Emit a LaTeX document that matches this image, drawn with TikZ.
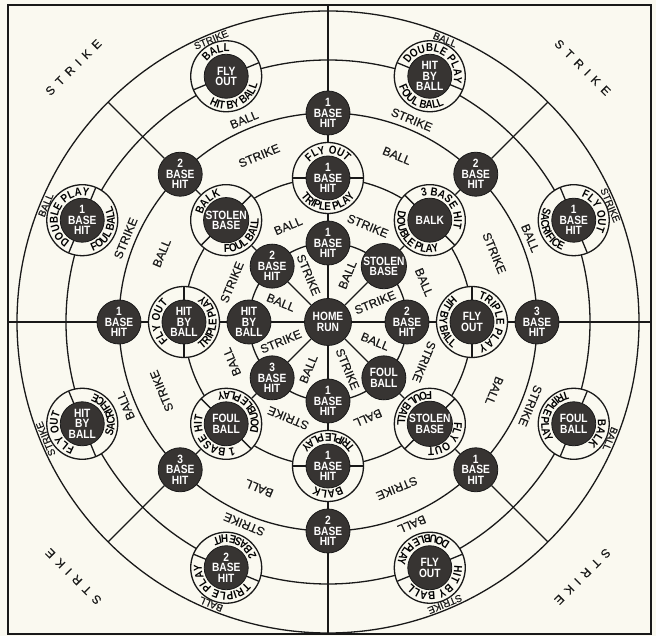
\documentclass[tikz,border=0pt]{standalone}
\usepackage{fontspec}
\setmainfont{Liberation Sans}[FakeBold=0.35]
\newfontfamily\narrowfam[FakeStretch=0.85]{Liberation Sans}
\usepackage{tikz}
\usetikzlibrary{decorations.text}

\definecolor{paper}{RGB}{250,249,240}
\definecolor{ink}{RGB}{25,25,25}
\definecolor{disc}{RGB}{55,52,50}

\newcommand{\discfont}{\narrowfam\bfseries\fontsize{12}{10.5}\selectfont}
\newcommand{\ringfont}{\narrowfam\bfseries\fontsize{11.5}{11.5}\selectfont}
\newcommand{\lblfont}{\fontsize{12}{12}\selectfont}

% ring node: name, angle, radius, core text, outer text, inner text
\newcommand{\ringnode}[6]{%
  \node[ringdisc] (#1) at (#2:#3) {};
  \draw[track] (#1.center) ++(#2+90:21.5) -- ++(#2+90:13.5);
  \draw[track] (#1.center) ++(#2-90:21.5) -- ++(#2-90:13.5);
  \node[darkdisc] at (#1) {#4};
  \path[decorate, decoration={text along path, text align=center, text={|\ringfont|#5}}]
    (#1.center) ++(#2+90:24.3) arc[start angle=#2+90, end angle=#2-90, radius=24.3];
  \path[decorate, decoration={text along path, text align=center, text={|\ringfont|#6}}]
    (#1.center) ++(#2+90:32.6) arc[start angle=#2+90, end angle=#2+270, radius=32.6];
}

\begin{document}
\begin{tikzpicture}[
    x=1pt, y=1pt,
    track/.style={draw=ink, line width=1.3pt},
    darkdisc/.style={circle, fill=disc, draw=ink, line width=0.8pt, minimum size=44pt, inner sep=0pt, text=white, align=center, font=\discfont},
    hub/.style={darkdisc, minimum size=47pt},
    ringdisc/.style={circle, fill=paper, draw=ink, line width=1.3pt, minimum size=71pt, inner sep=0pt},
    lbl/.style={font=\lblfont, text=ink, inner sep=0pt},
    smalllbl/.style={lbl, font=\fontsize{10}{10}\selectfont},
    cornerlbl/.style={lbl, font=\fontsize{12}{12}\selectfont}
  ]
    % Paper and frame
    \fill[paper] (-328,-314) rectangle (328,322);
    \useasboundingbox (-328,-314) rectangle (328,322);
    \draw[ink, line width=2pt] (-320,-312) rectangle (323,317);

    % Tracks
    \foreach \r in {79,144,209,262,311}
        \draw[track] (0,0) circle[radius=\r];

    % Home plate
    \node[hub] (home) at (0,0) {HOME\\RUN};

    % Inner bases
    \foreach \txt [count=\i] in {{1\\BASE\\HIT},{STOLEN\\BASE},{2\\BASE\\HIT},{FOUL\\BALL},{1\\BASE\\HIT},{3\\BASE\\HIT},{HIT\\BY\\BALL},{2\\BASE\\HIT}}
        \node[darkdisc] (a\i) at ({135-45*\i}:79) {\txt};

    % Second ring
    \ringnode{b1}{90}{144}{1\\BASE\\HIT}{FLY OUT}{TRIPLE PLAY}
    \ringnode{b2}{45}{144}{BALK}{3 BASE HIT}{DOUBLE PLAY}
    \ringnode{b3}{0}{144}{FLY\\OUT}{TRIPLE PLAY}{HIT BY BALL}
    \ringnode{b4}{-45}{144}{STOLEN\\BASE}{FLY OUT}{FOUL BALL}
    \ringnode{b5}{-90}{144}{1\\BASE\\HIT}{BALK}{TRIPLE PLAY}
    \ringnode{b6}{-135}{144}{FOUL\\BALL}{1 BASE HIT}{DOUBLE PLAY}
    \ringnode{b7}{180}{144}{HIT\\BY\\BALL}{FLY OUT}{TRIPLE PLAY}
    \ringnode{b8}{135}{144}{STOLEN\\BASE}{BALK}{FOUL BALL}

    % Third ring
    \foreach \n [count=\i] in {1,2,3,1,2,3,1,2}
        \node[darkdisc] (c\i) at ({135-45*\i}:209) {\n\\BASE\\HIT};

    % Outer ring
    \ringnode{d1}{112.5}{266}{FLY\\OUT}{BALL}{HIT BY BALL}
    \ringnode{d2}{67.5}{266}{HIT\\BY\\BALL}{DOUBLE PLAY}{FOUL BALL}
    \ringnode{d3}{22.5}{266}{1\\BASE\\HIT}{FLY OUT}{SACRIFICE}
    \ringnode{d4}{-22.5}{266}{FOUL\\BALL}{BALK}{TRIPLE PLAY}
    \ringnode{d5}{-67.5}{266}{FLY\\OUT}{HIT BY BALL}{DOUBLE PLAY}
    \ringnode{d6}{-112.5}{266}{2\\BASE\\HIT}{TRIPLE PLAY}{2 BASE HIT}
    \ringnode{d7}{-157.5}{266}{HIT\\BY\\BALL}{FLY OUT}{SACRIFICE}
    \ringnode{d8}{157.5}{266}{1\\BASE\\HIT}{DOUBLE PLAY}{FOUL BALL}

    % Spoke ends
    \coordinate (e1) at (0,317);
    \coordinate (e2) at (45:311);
    \coordinate (e3) at (323,0);
    \coordinate (e4) at (-45:311);
    \coordinate (e5) at (0,-312);
    \coordinate (e6) at (-135:311);
    \coordinate (e7) at (-320,0);
    \coordinate (e8) at (135:311);

    % Spokes
    \foreach \i/\j in {1/5,2/6,3/7,4/8}
        \draw[track] (e\i) -- (c\i) -- (b\i) -- (a\i) -- (home) -- (a\j) -- (b\j) -- (c\j) -- (e\j);

    % Labels round home
    \foreach \a/\r/\w in {112.5/-67.5/STRIKE, 67.5/67.5/BALL, 22.5/22.5/STRIKE, -22.5/-22.5/BALL, -67.5/-67.5/STRIKE, -112.5/67.5/BALL, -157.5/22.5/STRIKE, 157.5/-22.5/BALL}
        \node[lbl, rotate=\r] at (\a:51) {\w};

    % Labels between tracks
    \foreach \a/\u/\v in {112.5/BALL/STRIKE, 67.5/STRIKE/BALL, 22.5/BALL/STRIKE, -22.5/STRIKE/BALL, -67.5/BALL/STRIKE, -112.5/STRIKE/BALL, -157.5/BALL/STRIKE, 157.5/STRIKE/BALL} {
        \node[lbl, rotate=\a-90] at (\a:104) {\u};
        \node[lbl, rotate=\a-90] at (\a:180) {\v};
        \node[lbl, rotate=\a-90] at (\a:219) {\u};
        \node[smalllbl, rotate=\a-90] at (\a:305.5) {\v};
    }

    % Corners
    \foreach \a in {45,135,-45,-135}
        \node[cornerlbl, rotate=\a-90] at (\a:360) {S\hspace{6pt}T\hspace{6pt}R\hspace{6pt}I\hspace{6pt}K\hspace{6pt}E};
\end{tikzpicture}
\end{document}
